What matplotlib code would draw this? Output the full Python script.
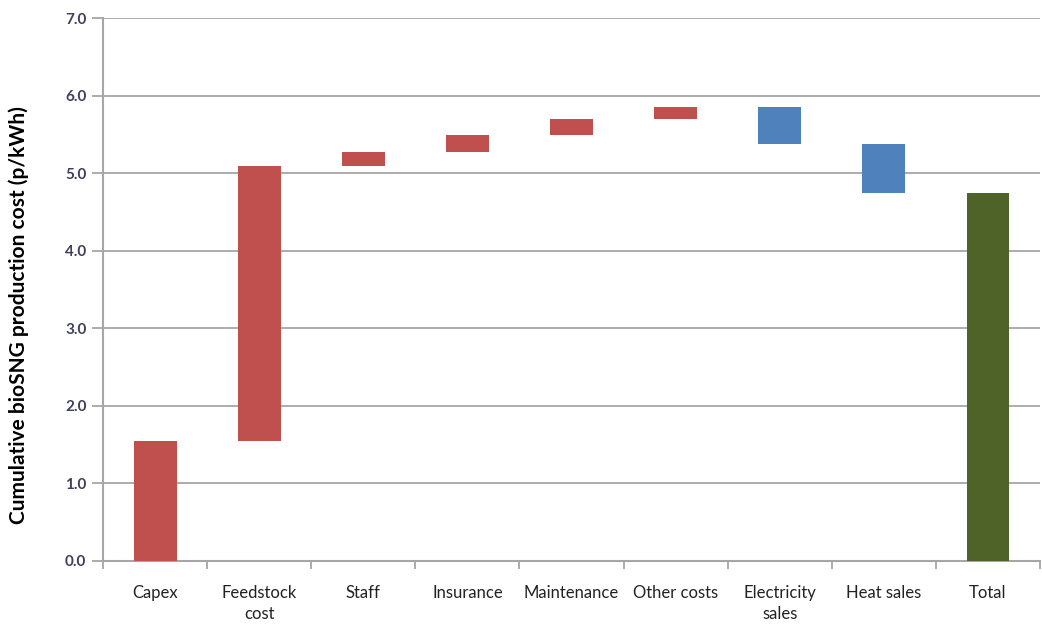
import matplotlib
matplotlib.use("Agg")
import matplotlib.pyplot as plt
import numpy as np

# cost steps (p/kWh)
categories = ["Capex", "Feedstock\ncost", "Staff", "Insurance", "Maintenance",
              "Other costs", "Electricity\nsales", "Heat sales", "Total"]
steps = [1.55, 3.54, 0.18, 0.22, 0.21, 0.16, -0.48, -0.64]
total = 4.74
y_ticks = [0.0, 1.0, 2.0, 3.0, 4.0, 5.0, 6.0, 7.0]

red = "#C0504D"
blue = "#4F81BD"
green = "#4F6228"
grey = "#A6A6A6"

# bottoms of the floating bars
cum = np.cumsum([0] + steps)
bottoms = []
heights = []
colors = []
for i, s in enumerate(steps):
    lo = min(cum[i], cum[i + 1])
    bottoms.append(lo)
    heights.append(abs(s))
    colors.append(red if s > 0 else blue)
bottoms.append(0)
heights.append(total)
colors.append(green)

fig = plt.figure(figsize=(10.42, 6.24), dpi=100)
ax = fig.add_axes([0.099, 0.101, 0.899, 0.870])

x = np.arange(len(categories))
ax.bar(x, heights, bottom=bottoms, width=0.41, color=colors, zorder=3)

ax.set_ylim(0, 7)
ax.set_xlim(-0.5, len(categories) - 0.5)
ax.set_yticks(y_ticks)
ax.set_yticklabels(["%.1f" % v for v in y_ticks], fontsize=11, fontweight="bold",
                   color="#3F3F5F", family=["Lato", "DejaVu Sans"])
ax.yaxis.grid(True, color=grey, linewidth=1.3, zorder=0)

# category labels at centres, tick marks between categories
ax.set_xticks(x)
ax.set_xticklabels(categories, fontsize=12, family=["Liberation Sans Narrow", "Lato", "DejaVu Sans"],
                   color="#222222", linespacing=1.4)
ax.tick_params(axis="x", which="major", length=0, pad=17)
ax.set_xticks(np.arange(-0.5, len(categories), 1.0), minor=True)
ax.tick_params(axis="x", which="minor", length=6, color=grey, width=1.3)
ax.tick_params(axis="y", length=8, color=grey, width=1.3, pad=4)

for side in ["top", "right"]:
    ax.spines[side].set_visible(False)
for side in ["left", "bottom"]:
    ax.spines[side].set_color(grey)
    ax.spines[side].set_linewidth(1.5)

ax.set_ylabel("Cumulative bioSNG production cost (p/kWh)", fontsize=15, fontweight="bold",
              family=["Lato", "DejaVu Sans"])
ax.yaxis.set_label_coords(-0.079, 0.453)

fig.savefig("out.png", dpi=100)
